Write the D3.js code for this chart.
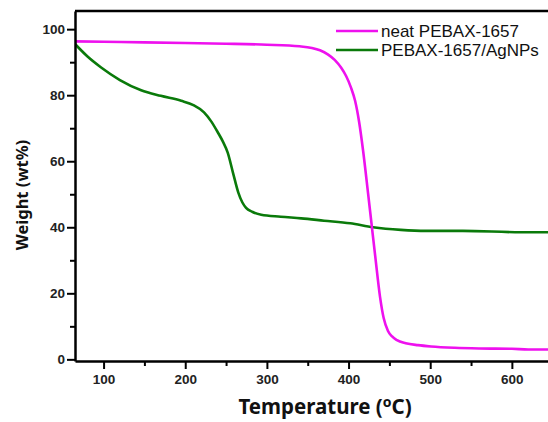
<!DOCTYPE html>
<html><head><meta charset="utf-8">
<script src="https://cdn.jsdelivr.net/npm/d3@7"></script>
<style>body{margin:0;background:#fff}</style>
</head><body>
<svg id="c" width="548" height="422"></svg>
<script>
const seriesNames = ["neat PEBAX-1657", "PEBAX-1657/AgNPs"];
const seriesColors = ["#ee11ee", "#0a7a0a"];
const neatTemp = [65, 100, 150, 200, 250, 300, 340, 355, 365, 375, 383, 391, 397, 403, 408, 413, 417.7, 423.8, 428.7, 433, 438.5, 443, 448.3, 453, 459.3, 470, 485, 501, 530, 560, 600, 620, 650];
const neatWeight = [96.3, 96.2, 96.0, 95.8, 95.6, 95.3, 94.8, 94.3, 93.6, 92.3, 90.7, 88.3, 85.8, 82.3, 78.3, 71.8, 63.4, 50.5, 39.8, 30.5, 19.0, 12.5, 8.6, 7.0, 5.8, 4.9, 4.3, 3.9, 3.5, 3.3, 3.2, 3.0, 3.0];
const agTemp = [65, 80, 97, 120, 146, 170, 195, 210, 223, 232, 240, 246, 252, 258.5, 265, 270, 274.5, 282, 293, 317, 342, 370, 402, 430, 464, 495, 540, 611, 650];
const agWeight = [95.5, 91.8, 88.4, 84.6, 81.5, 79.8, 78.3, 77.0, 74.8, 72.0, 68.7, 66.0, 62.6, 56.5, 50.5, 47.5, 45.9, 44.7, 43.8, 43.2, 42.7, 42.0, 41.2, 40.0, 39.2, 38.9, 38.9, 38.5, 38.5];
const xTicks = [100, 200, 300, 400, 500, 600];
const yTicks = [0, 20, 40, 60, 80, 100];

const svg = d3.select("#c");
const x = d3.scaleLinear().domain([65, 650]).range([75, 552.7]);
const y = d3.scaleLinear().domain([-0.5, 105.5]).range([361, 11]);

svg.append("defs").append("clipPath").attr("id","clip")
  .append("rect").attr("x",75).attr("y",11).attr("width",480).attr("height",350);

const line = d3.line().x(d=>x(d[0])).y(d=>y(d[1])).curve(d3.curveMonotoneX);
const series = [d3.zip(neatTemp, neatWeight), d3.zip(agTemp, agWeight)];
svg.append("g").attr("clip-path","url(#clip)").selectAll("path").data([series[1], series[0]]).join("path")
  .attr("d", line).attr("fill","none")
  .attr("stroke",(d,i)=>i===0?seriesColors[1]:seriesColors[0])
  .attr("stroke-width",2.6);

// top border
svg.append("line").attr("x1",75).attr("x2",548).attr("y1",11).attr("y2",11).attr("stroke","#000").attr("stroke-width",2.5);

const tickFont = "Liberation Sans, Arial, sans-serif";
// x axis
const xa = svg.append("g").attr("transform","translate(0,361)")
  .call(d3.axisBottom(x).tickValues(xTicks).tickSize(8).tickSizeOuter(0).tickFormat(d3.format("d")));
xa.select(".domain").attr("stroke-width",2.5);
xa.selectAll(".tick line").attr("stroke-width",2);
xa.selectAll("text").attr("font-family",tickFont).attr("font-weight","bold").attr("font-size",13.5).attr("fill","#222").attr("y",23).attr("dy",0);
const xm = svg.append("g").attr("transform","translate(0,361)")
  .call(d3.axisBottom(x).tickValues([150,250,350,450,550]).tickSize(5).tickFormat(""));
xm.select(".domain").remove();
xm.selectAll(".tick line").attr("stroke-width",2);

// y axis
const ya = svg.append("g").attr("transform","translate(75,0)")
  .call(d3.axisLeft(y).tickValues(yTicks).tickSize(8).tickSizeOuter(0));
ya.select(".domain").attr("stroke-width",2.5);
ya.selectAll(".tick line").attr("stroke-width",2);
ya.selectAll("text").attr("font-family",tickFont).attr("font-weight","bold").attr("font-size",13.5).attr("fill","#222").attr("x",-10);
const ym = svg.append("g").attr("transform","translate(75,0)")
  .call(d3.axisLeft(y).tickValues([10,30,50,70,90]).tickSize(5).tickFormat(""));
ym.select(".domain").remove();
ym.selectAll(".tick line").attr("stroke-width",2);

// titles
const xt = svg.append("text").attr("x",325).attr("y",414).attr("text-anchor","middle")
  .attr("font-family","Noto Sans, sans-serif").attr("font-weight","bold").attr("font-size",20.5).attr("fill","#111");
xt.append("tspan").text("Temperature (");
xt.append("tspan").text("o").attr("font-size",14).attr("dy",-7);
xt.append("tspan").text("C)").attr("dy",7);

svg.append("text").attr("transform","translate(28,195) rotate(-90)").attr("text-anchor","middle")
  .attr("font-family","Noto Sans, sans-serif").attr("font-weight","bold").attr("font-size",16.5).attr("fill","#111")
  .text("Weight (wt%)");

// legend
const lg = svg.append("g").selectAll("g").data(seriesNames).join("g")
  .attr("transform",(d,i)=>`translate(336,${31+i*19})`);
lg.append("line").attr("x1",0).attr("x2",42).attr("stroke",(d,i)=>seriesColors[i]).attr("stroke-width",2.6);
lg.append("text").attr("x",45).attr("y",6).text(d=>d)
  .attr("font-family","Liberation Sans, Arial, sans-serif").attr("font-size",17).attr("fill","#111");
</script>
</body></html>
